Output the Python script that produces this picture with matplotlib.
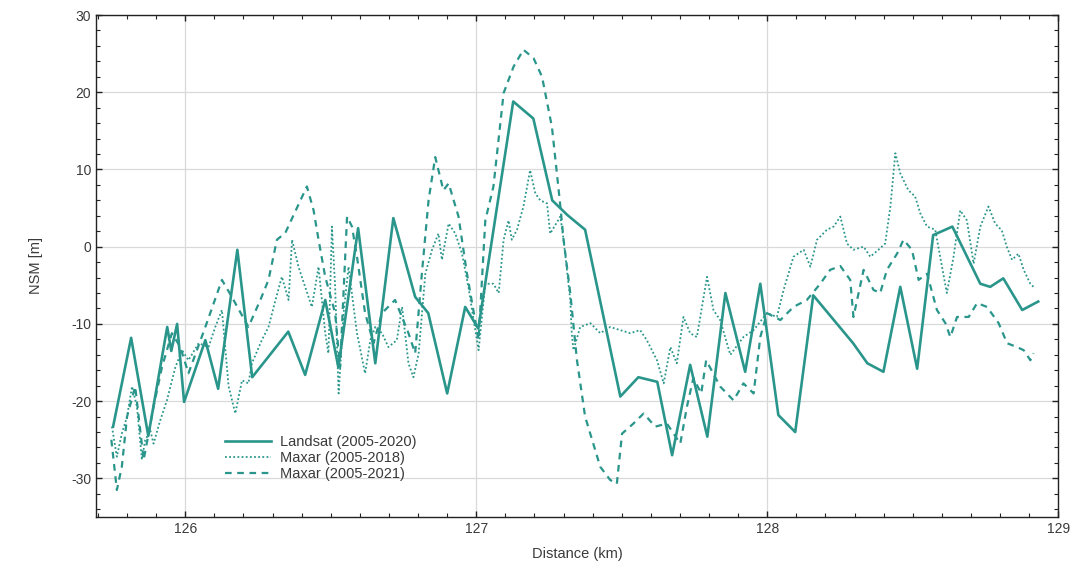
import matplotlib
matplotlib.use("Agg")
import matplotlib.pyplot as plt
from matplotlib.ticker import MultipleLocator

# Landsat (2005-2020) shoreline change profile
landsat_km = [125.752, 125.814, 125.873, 125.938, 125.952, 125.972, 125.996, 126.069,
              126.113, 126.179, 126.230, 126.354, 126.412, 126.481, 126.526, 126.594,
              126.653, 126.715, 126.790, 126.835, 126.900, 126.962, 127.007, 127.127,
              127.196, 127.261, 127.313, 127.374, 127.495, 127.557, 127.622, 127.673,
              127.735, 127.794, 127.856, 127.924, 127.976, 128.038, 128.096, 128.158,
              128.295, 128.344, 128.399, 128.457, 128.515, 128.570, 128.636, 128.732,
              128.766, 128.811, 128.876, 128.931]
landsat_nsm = [-23.3, -11.8, -24.5, -10.4, -13.5, -10.0, -20.1, -12.1,
               -18.4, -0.4, -16.9, -11.0, -16.6, -6.9, -15.6, 2.4,
               -15.1, 3.7, -6.5, -8.6, -19.0, -7.8, -10.6, 18.8,
               16.6, 6.0, 4.1, 2.2, -19.4, -16.9, -17.5, -27.0,
               -15.3, -24.6, -6.0, -16.2, -4.8, -21.8, -24.0, -6.3,
               -12.5, -15.1, -16.2, -5.2, -15.8, 1.5, 2.6, -4.8,
               -5.2, -4.1, -8.2, -7.1]

# Maxar (2005-2018)
maxar18_km = [125.748, 125.765, 125.782, 125.800, 125.817, 125.834, 125.851, 125.862,
              125.880, 125.891, 125.914, 125.937, 125.966, 125.989, 126.011, 126.046,
              126.080, 126.103, 126.126, 126.149, 126.172, 126.195, 126.217, 126.229,
              126.263, 126.286, 126.313, 126.332, 126.355, 126.367, 126.389, 126.412,
              126.435, 126.458, 126.481, 126.492, 126.504, 126.515, 126.527, 126.544,
              126.561, 126.590, 126.618, 126.636, 126.653, 126.676, 126.698, 126.727,
              126.745, 126.767, 126.784, 126.802, 126.825, 126.848, 126.870, 126.882,
              126.905, 126.928, 126.951, 126.973, 126.991, 127.008, 127.031, 127.059,
              127.077, 127.094, 127.111, 127.122, 127.140, 127.162, 127.185, 127.203,
              127.220, 127.243, 127.254, 127.289, 127.300, 127.323, 127.328, 127.334,
              127.357, 127.392, 127.426, 127.460, 127.495, 127.529, 127.563, 127.586,
              127.621, 127.644, 127.667, 127.689, 127.712, 127.735, 127.758, 127.793,
              127.815, 127.838, 127.873, 127.918, 127.953, 127.999, 128.033, 128.056,
              128.090, 128.125, 128.148, 128.171, 128.205, 128.228, 128.251, 128.274,
              128.296, 128.331, 128.354, 128.382, 128.405, 128.423, 128.440, 128.457,
              128.485, 128.508, 128.526, 128.549, 128.577, 128.617, 128.640, 128.663,
              128.686, 128.709, 128.732, 128.760, 128.783, 128.806, 128.824, 128.841,
              128.863, 128.881, 128.904, 128.915]
maxar18_nsm = [-23.3, -27.2, -24.2, -22.0, -18.1, -20.7, -27.6, -25.1,
               -23.8, -25.5, -22.5, -19.9, -15.6, -13.4, -14.7, -12.5,
               -13.0, -10.4, -8.2, -18.1, -21.6, -17.3, -17.7, -15.1,
               -12.1, -10.4, -6.5, -3.9, -6.9, 0.9, -2.6, -5.2,
               -7.8, -2.6, -11.2, -13.8, 2.6, -5.2, -19.0, -8.6,
               -2.6, -11.2, -16.4, -12.1, -10.4, -11.2, -13.0, -12.1,
               -7.8, -15.1, -16.9, -13.8, -3.5, -0.4, 1.7, -1.7,
               3.0, 1.7, -0.9, -5.2, -9.5, -13.4, -4.8, -4.8,
               -6.0, 0.9, 3.4, 0.9, 2.2, 5.2, 9.9, 6.9,
               6.0, 5.6, 1.7, 3.9, 0.9, -6.9, -11.2, -13.4,
               -10.4, -9.9, -11.2, -10.4, -10.8, -11.2, -10.8, -12.1,
               -14.7, -17.7, -13.0, -15.1, -9.1, -11.2, -11.7, -3.9,
               -8.2, -9.5, -14.0, -11.7, -10.8, -8.6, -9.1, -5.6,
               -1.3, -0.4, -2.6, 0.9, 2.2, 2.6, 3.9, 0.4,
               -0.4, 0.0, -1.3, -0.4, 0.4, 5.2, 12.1, 9.5,
               7.3, 6.5, 4.3, 2.6, 2.2, -6.0, -1.3, 4.7,
               3.4, -2.2, 2.6, 5.2, 3.0, 2.1, -0.1, -1.7,
               -0.9, -3.0, -4.8, -5.2]

# Maxar (2005-2021)
maxar21_km = [125.746, 125.765, 125.782, 125.800, 125.828, 125.857, 125.874, 125.891,
              125.920, 125.954, 125.983, 126.011, 126.069, 126.126, 126.160, 126.217,
              126.258, 126.286, 126.315, 126.344, 126.418, 126.441, 126.458, 126.481,
              126.515, 126.532, 126.556, 126.573, 126.590, 126.618, 126.647, 126.676,
              126.721, 126.767, 126.790, 126.813, 126.836, 126.859, 126.887, 126.905,
              126.939, 126.968, 127.008, 127.031, 127.059, 127.094, 127.128, 127.162,
              127.197, 127.226, 127.260, 127.277, 127.289, 127.300, 127.323, 127.346,
              127.374, 127.426, 127.460, 127.483, 127.501, 127.540, 127.575, 127.615,
              127.655, 127.701, 127.724, 127.746, 127.773, 127.790, 127.838, 127.884,
              127.918, 127.953, 127.976, 127.999, 128.045, 128.090, 128.136, 128.182,
              128.216, 128.251, 128.285, 128.296, 128.331, 128.365, 128.388, 128.411,
              128.446, 128.468, 128.497, 128.520, 128.549, 128.583, 128.612, 128.629,
              128.652, 128.692, 128.721, 128.755, 128.795, 128.824, 128.858, 128.881,
              128.904, 128.915]
maxar21_nsm = [-25.0, -31.5, -28.5, -22.0, -18.1, -27.6, -24.2, -20.7,
               -15.6, -11.2, -13.0, -16.4, -10.4, -4.3, -6.5, -10.4,
               -6.9, -4.3, 0.9, 1.8, 7.8, 4.7, 0.9, -3.9,
               -8.6, -15.6, 3.9, 2.6, -1.3, -8.6, -12.5, -8.6,
               -6.9, -11.2, -13.8, -3.5, 6.0, 11.6, 7.3, 8.2,
               3.9, -3.5, -12.1, 3.4, 7.8, 19.9, 23.3, 25.5,
               24.4, 22.0, 15.5, 9.5, 5.2, 0.9, -6.0, -14.7,
               -22.0, -28.5, -30.2, -30.7, -24.2, -22.9, -21.6, -23.3,
               -22.9, -25.5, -20.7, -17.0, -19.0, -14.7, -18.1, -19.9,
               -17.7, -19.0, -11.7, -8.6, -9.5, -7.8, -6.9, -4.8,
               -3.0, -2.5, -4.3, -9.1, -3.0, -5.6, -6.0, -3.0,
               -0.9, 0.9, -0.4, -4.3, -3.5, -8.2, -9.9, -11.7,
               -9.1, -9.1, -7.3, -7.8, -9.9, -12.5, -13.0, -13.4,
               -14.7, -13.8]

x_ticks = [126, 127, 128, 129]
y_ticks = [-30, -20, -10, 0, 10, 20, 30]

teal = "#2a968b"
text_color = "#3a3a3a"

plt.rcParams["font.family"] = ["Liberation Sans", "DejaVu Sans"]
plt.rcParams["axes.unicode_minus"] = False

fig = plt.figure(figsize=(10.81, 5.77), dpi=100)
ax = fig.add_axes([0.089, 0.104, 0.890, 0.870])

ax.plot(landsat_km, landsat_nsm, color=teal, lw=1.9, ls="-",
        label="Landsat (2005-2020)", zorder=4)
ax.plot(maxar18_km, maxar18_nsm, color=teal, lw=1.3, ls=(0, (1, 1.3)),
        label="Maxar (2005-2018)", zorder=3)
ax.plot(maxar21_km, maxar21_nsm, color=teal, lw=1.6, ls=(0, (3, 2.5)),
        label="Maxar (2005-2021)", zorder=3)

ax.set_xlim(125.694, 129.0)
ax.set_ylim(-35, 30)
ax.set_xticks(x_ticks)
ax.set_yticks(y_ticks)
ax.xaxis.set_minor_locator(MultipleLocator(0.1))
ax.yaxis.set_minor_locator(MultipleLocator(2))

ax.tick_params(which="both", direction="in", top=True, right=True,
               colors="#222222", labelcolor=text_color, labelsize=10)
ax.tick_params(which="major", length=4, width=1)
ax.tick_params(which="minor", length=3, width=0.8)

ax.grid(True, which="major", color="#d9d9d9", lw=0.9)
ax.set_axisbelow(True)
for s in ax.spines.values():
    s.set_color("#222222")
    s.set_linewidth(1.0)

ax.set_xlabel("Distance (km)", fontsize=10.5, color=text_color, labelpad=8)
ax.set_ylabel("NSM [m]", fontsize=10.5, color=text_color, labelpad=20)

ax.legend(loc="upper left", bbox_to_anchor=(0.12, 0.19), frameon=False,
          fontsize=10.5, handlelength=3.2, labelspacing=0.15,
          handletextpad=0.6, labelcolor=text_color)

fig.savefig("out.png", dpi=100, facecolor="white")
